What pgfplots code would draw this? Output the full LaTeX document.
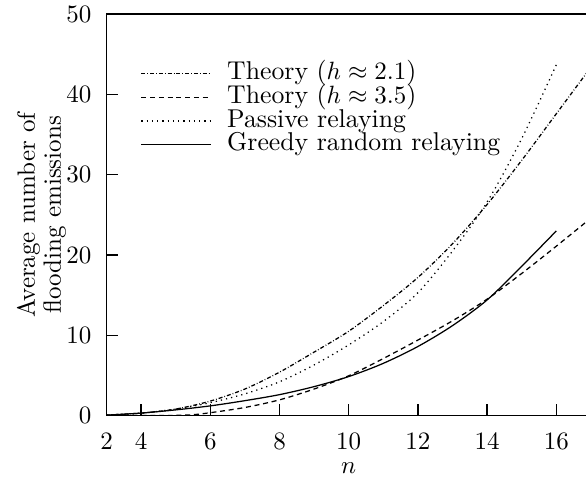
\documentclass[border=0pt]{standalone}
\usepackage{pgfplots}
\pgfplotsset{compat=1.18}
\begin{document}
\begin{tikzpicture}
\useasboundingbox (-42.6pt,-26.6pt) rectangle (191.8pt,166.2pt);
\begin{axis}[
  at={(0,0)}, anchor=south west,
  scale only axis, width=193.76pt, height=160.5pt,
  xmin=3, xmax=17, ymin=0, ymax=50,
  xtick={3,4,6,8,10,12,14,16}, xticklabels={2,4,6,8,10,12,14,16},
  ytick={0,10,20,30,40,50},
  tick align=inside, xtick pos=left, ytick pos=left,
  major tick length=4.7pt,
  axis line style={line width=0.7pt},
  every tick/.style={black, line width=0.5pt},
  xticklabel style={yshift=-3.3pt},
  yticklabel style={xshift=-2.5pt},
  xlabel={$n$},
  every axis x label/.style={at={(axis description cs:0.5,-0.145)}, anchor=base},
  ylabel={Average number of\\[-1.6pt]flooding emissions},
  every axis y label/.style={at={(axis description cs:-0.134,0.5)}, rotate=90, anchor=center, align=center},
  legend cell align=left,
  legend style={at={(axis description cs:0.0706,0.8835)}, anchor=north west, draw=none, fill=none, inner sep=0pt, outer sep=0pt, row sep=-0.5pt, column sep=6.4pt, font=\fontsize{10.3}{12}\selectfont, nodes={inner sep=0pt, text height=7.5pt, text depth=2.5pt}},
  legend image code/.code={\draw[#1] (0pt,0pt) -- (27.7pt,0pt);},
]
\addplot[black, line width=0.5pt, smooth, dash pattern=on 1.6pt off 0.8pt on 0.3pt off 0.8pt] coordinates {
(3,0.05)(4,0.3)(5,0.8)(6,1.8)(7,3.3)(8,5.4)(9,7.9)(10,10.5)(11,13.7)(12,17.2)(13,21.4)(14,26.3)(15,31.8)(16,37.6)(17,43.4)};
\addlegendentry{Theory ($h \approx 2.1$)}
\addplot[black, line width=0.5pt, smooth, dash pattern=on 2pt off 1.5pt] coordinates {
(3,0)(4,0)(5,0.02)(5.5,0.1)(6,0.35)(7,1.0)(8,1.95)(9,3.3)(10,4.95)(11,7.1)(12,9.4)(13,11.8)(14,14.5)(15,17.7)(16,21.1)(17,24.6)};
\addlegendentry{Theory ($h \approx 3.5$)}
\addplot[black, line width=0.5pt, smooth, dash pattern=on 0.5pt off 1.6pt] coordinates {
(3,0.05)(4,0.3)(5,0.8)(6,1.6)(7,2.7)(8,4.2)(9,6.3)(10,8.8)(11,11.7)(12,15.3)(13,20.5)(14,26.6)(15,34.5)(16,43.7)};
\addlegendentry{Passive relaying}
\addplot[black, line width=0.5pt, smooth] coordinates {
(3,0.05)(4,0.3)(5,0.7)(6,1.2)(7,1.85)(8,2.6)(9,3.6)(10,4.85)(11,6.5)(12,8.6)(13,11.2)(14,14.4)(15,18.6)(16,23.0)};
\addlegendentry{Greedy random relaying}
\end{axis}
\end{tikzpicture}
\end{document}
